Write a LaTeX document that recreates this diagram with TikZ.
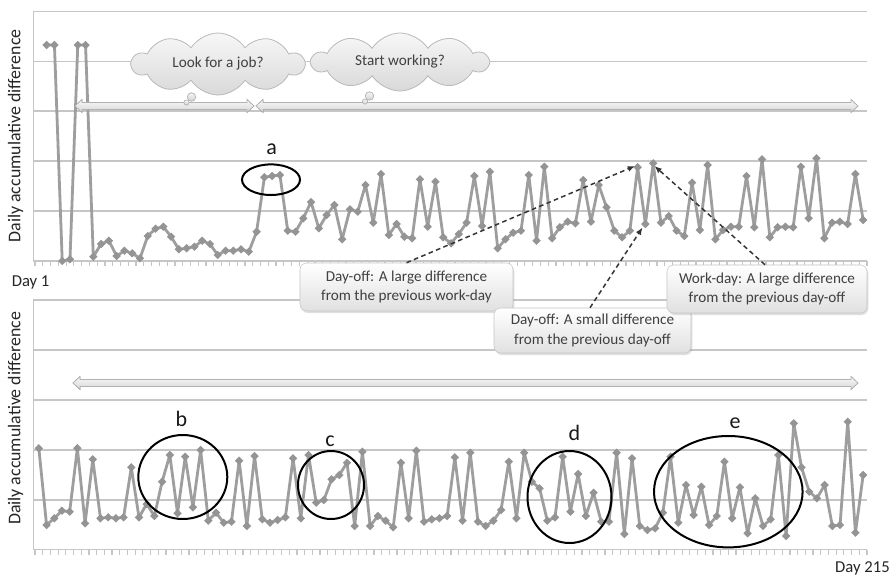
\documentclass[tikz,border=0pt]{standalone}
\usepackage{fontspec}
\setmainfont{Carlito}
\usetikzlibrary{shapes.symbols,shadows,arrows.meta}
\newdimen\px \px=0.75pt
\definecolor{gridc}{HTML}{C6C6C6}
\definecolor{datac}{HTML}{9E9E9E}
\definecolor{markc}{HTML}{949494}
\definecolor{txtc}{HTML}{404040}
\def\topdata{45,45,261,259.3,45,45,256.7,244,240.7,256,250.7,253.3,258.3,236,228.7,226.7,236.7,249.3,248.3,246.7,240.7,244,255,250.7,250.7,249.3,251.7,231.7,177.3,176,175,230.7,231.7,218.3,202,228.3,215,205,239.3,209.3,211.7,185,222.7,174,235,224,236.7,238.3,179.3,226.7,181.7,237.3,243.3,234,222.7,176,226,171.7,248.3,239.3,232.7,230.7,175,240.7,166.7,238.3,227.3,221.7,223.3,180,221.7,185,207.3,230.7,237.3,230.7,167.3,224,163.3,222.7,216,230.7,236,182.7,230,165,239.3,230,226.7,226.7,176,227.3,159.3,237.3,227.3,226.7,227.3,166.7,218.3,158.3,238.3,222.7,221.7,224,174,220}
\def\botdata{448.3,525,518.3,510.7,511.7,448.3,523.3,459.3,518.3,517.3,518.3,517.3,467.3,517.3,504,516,481.7,455,513.3,456.7,507.3,450,520.7,512.7,522.7,521.7,460.7,526,456,519.3,522.7,520,517.3,458.3,518.3,455,502.7,500,479.3,475,462.7,526,451.7,526,516,520.7,527.3,462.7,518.3,450.7,521.7,519.3,518.3,516,457.3,520.7,452.7,521.7,526,520.7,510,461.7,518.3,452.7,481.7,488.3,520.7,517.3,456.7,511.7,474,516,492.7,521.7,521.7,452.7,534,458.3,526,530,528.3,512.7,456.7,522.7,485,515,486.7,525,516,461.7,518.3,487.3,533.3,498.3,526,519.3,455,536,423.3,467.3,491.7,498.3,485,526,525,421.7,532.7,475}
\newcommand{\mydblarrow}[3]{%
  \filldraw[dblarr] (#1,#3) -- ++(7,-6.5) -- ++(0,3) -- ({#2-7},{#3-3.5}) -- ++(0,-3) -- (#2,#3)
   -- ({#2-7},{#3+6.5}) -- ++(0,-3) -- ({#1+7},{#3+3.5}) -- ++(0,3) -- cycle;}
\tikzset{
  gridl/.style={gridc, line width=0.9pt},
  dataline/.style={datac, line width=2.1pt, line join=round},
  dblarr/.style={draw=gray!60, top color=gray!5, bottom color=gray!32, line width=0.6pt},
  thought/.style={cloud, cloud puffs=10, cloud puff arc=115, cloud ignores aspect,
    draw=gray!55, top color=gray!6, bottom color=gray!30, line width=0.6pt,
    font=\fontsize{11.4}{13.5}\selectfont, text=txtc, inner sep=0pt},
  bubblet/.style={draw=gray!55, top color=gray!8, bottom color=gray!35, line width=0.5pt},
  ell/.style={black, line width=1.5pt},
  lab/.style={font=\fontsize{16.5}{18}\selectfont, text=black!90, inner sep=0pt},
  daylab/.style={font=\fontsize{12.5}{14}\selectfont, text=black!85, inner sep=0pt},
  axlab/.style={font=\fontsize{13.4}{15}\selectfont, text=black!85, inner sep=0pt, rotate=90},
  note/.style={draw=gray!45, rounded corners=5pt, top color=white, bottom color=gray!24,
    drop shadow={opacity=0.25, shadow xshift=1pt, shadow yshift=-1.5pt},
    align=center, font=\fontsize{11.4}{14.5}\selectfont, text=txtc, inner sep=0pt},
  dasharr/.style={black!80, line width=1.1pt, dash pattern=on 3.5pt off 2.5pt, -{Latex[length=5.5pt,width=4.5pt]}}
}
\begin{document}
\begin{tikzpicture}[x=0.75pt,y=-0.75pt]
\useasboundingbox (0,0) rectangle (894,576);
\fill[white] (0,0) rectangle (894,576);
% ---------- top chart frame
\foreach \g in {11.5,61.5,111,161,211} \draw[gridl] (33,\g) -- (867,\g);
\draw[gridl] (33,261) -- (867,261);
\draw[gridl] (33.5,11.5) -- (33.5,261);
\foreach \k in {0,...,107} \draw[gridl] ({35+7.776*\k},261) -- ++(0,5);
% ---------- bottom chart frame
\foreach \g in {300,350,400,450,500} \draw[gridl] (33,\g) -- (867,\g);
\draw[gridl] (33,549.5) -- (867,549.5);
\draw[gridl] (33.5,300) -- (33.5,549.5);
\foreach \k in {0,...,108} \draw[gridl] ({35+7.7037*\k},549.5) -- ++(0,5);
% ---------- data
\draw[dataline] (46.66,45) \foreach \v [count=\i] in \topdata { -- ({35+7.776*(\i+0.5)},\v) };
\foreach \v [count=\i] in \topdata {
  \fill[markc] ({35+7.776*(\i+0.5)},\v) +(0,-4.2) -- +(4.2,0) -- +(0,4.2) -- +(-4.2,0) -- cycle; }
\draw[dataline] (38.85,448.3) \foreach \v [count=\i] in \botdata { -- ({35+7.7037*(\i-0.5)},\v) };
\foreach \v [count=\i] in \botdata {
  \fill[markc] ({35+7.7037*(\i-0.5)},\v) +(0,-4.2) -- +(4.2,0) -- +(0,4.2) -- +(-4.2,0) -- cycle; }
% ---------- wide arrows
\mydblarrow{75}{254}{106}
\mydblarrow{256}{858}{106}
\mydblarrow{73}{858}{383}
% ---------- clouds
\node[thought, minimum width=172\px, minimum height=62\px] (c1) at (218,64) {Look for a job?};
\node[thought, minimum width=176\px, minimum height=58\px] (c2) at (400,62) {Start working?};
\filldraw[bubblet] (191.5,97) circle [radius=4.2];
\filldraw[bubblet] (186.5,102.5) circle [radius=2.6];
\filldraw[bubblet] (369.5,96) circle [radius=4.2];
\filldraw[bubblet] (365,101.5) circle [radius=2.6];
% ---------- ellipses and letters
\draw[ell] (271,179.7) ellipse [x radius=29, y radius=15.3];
\draw[ell] (182.8,477) ellipse [x radius=44.5, y radius=42];
\draw[ell] (331,485) ellipse [x radius=33, y radius=34];
\draw[ell] (569.5,497) ellipse [x radius=42, y radius=46];
\draw[ell] (728.3,491.7) ellipse [x radius=74.3, y radius=55.7];
\node[lab, anchor=base] (la) at (271.7,154) {a};
\node[lab, anchor=base] (lb) at (181.3,426.7) {b};
\node[lab, anchor=base] (lc) at (330,446) {c};
\node[lab, anchor=base] (ld) at (574.3,440.7) {d};
\node[lab, anchor=base] (le) at (735,428) {e};
% ---------- axis texts
\node[axlab] (yl1) at (15.5,136) {Daily accumulative difference};
\node[axlab] (yl2) at (15.5,418.5) {Daily accumulative difference};
\node[daylab, anchor=base west] (dfirst) at (11.5,286) {Day 1};
\node[daylab, anchor=base east] (dlast) at (890,572.5) {Day 215};
% ---------- annotation arrows
\coordinate (t1) at (635,166);
\coordinate (t2) at (642.5,227.5);
\coordinate (t3) at (654.5,166);
\node[note, minimum width=213\px, minimum height=48\px] (b1) at (406.5,287) {Day-off: A large difference\\from the previous work-day};
\node[note, minimum width=197\px, minimum height=45\px] (b2) at (592.5,330.5) {Day-off: A small difference\\from the previous day-off};
\node[note, minimum width=200\px, minimum height=48\px] (b3) at (767,289) {Work-day: A large difference\\from the previous day-off};
\draw[dasharr] (b1.north) -- (t1);
\draw[dasharr] (b2.north) ++(-2.5,0) -- (t2);
\draw[dasharr] (b3.north) ++(-2,0) -- (t3);
\end{tikzpicture}
\end{document}
